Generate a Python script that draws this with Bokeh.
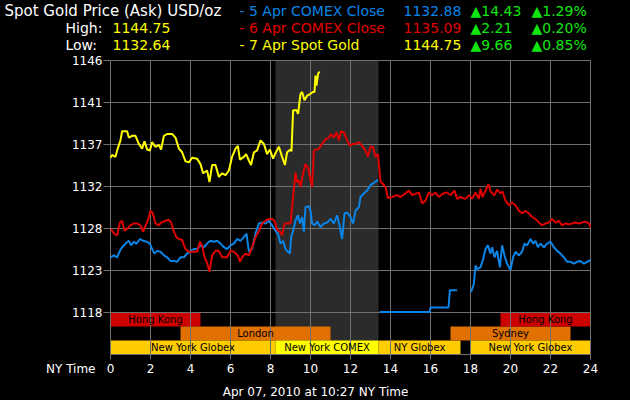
from bokeh.plotting import figure
from bokeh.models import ColumnDataSource, Range1d, GlobalInlineStyleSheet
from bokeh.embed import file_html
from bokeh.resources import INLINE
from bokeh.core.properties import value

nan = float("nan")

# ---------------- data ----------------
# 5 Apr COMEX Close (blue)
comex5_hours = [0, 0.17, 0.33, 0.47, 0.58, 0.75, 0.92, 1.03, 1.17, 1.3, 1.47, 1.63, 1.8, 1.97,
                2.08, 2.2, 2.33, 2.5, 2.67, 2.83, 3.0, 3.17, 3.33, 3.5, 3.67, 3.83, 4.0, 4.17,
                4.33, 4.5, 4.67, 4.83, 5.0, 5.17, 5.33, 5.5, 5.67, 5.83, 6.0, 6.17, 6.33, 6.5,
                6.67, 6.8, 6.92, 7.08, 7.25, 7.42, 7.58, 7.75, 7.92, 8.08, 8.25, 8.37, 8.5,
                8.63, 8.75, 8.87, 8.97, 9.03, 9.13, 9.25, 9.37, 9.47, 9.58, 9.67, 9.75, 9.92,
                10.0, 10.08, 10.2, 10.33, 10.5, 10.67, 10.83, 11.0, 11.17, 11.33, 11.47, 11.58,
                11.7, 11.83, 12.0, 12.13, 12.25, 12.42, 12.5, 12.67, 12.83, 13.0, 13.2, 13.37,
                nan,
                13.45, 15.97, 16.0, 16.9, 16.97, 17.33,
                nan,
                18.03, 18.17, 18.25, 18.33, 18.5, 18.63, 18.75, 18.87, 19.0, 19.08, 19.2, 19.33,
                19.47, 19.58, 19.7, 19.83, 20.0, 20.13, 20.25, 20.42, 20.58, 20.7, 20.83, 21.0,
                21.13, 21.25, 21.37, 21.5, 21.67, 21.83, 22.0, 22.17, 22.33, 22.5, 22.67, 22.83,
                23.0, 23.17, 23.33, 23.5, 23.67, 23.83, 24.0]
comex5_prices = [1124.4, 1124.6, 1124.4, 1125.1, 1125.5, 1125.9, 1126.2, 1125.7, 1126.1, 1125.9,
                 1126.4, 1126.2, 1126.1, 1125.9, 1125.3, 1124.8, 1125.1, 1125.0, 1124.6, 1124.4,
                 1124.0, 1124.0, 1123.9, 1124.4, 1124.4, 1124.8, 1125.1, 1125.3, 1125.3, 1125.7,
                 1125.5, 1125.9, 1126.2, 1126.1, 1126.2, 1125.9, 1125.5, 1125.3, 1125.7, 1125.9,
                 1126.4, 1126.2, 1126.6, 1127.0, 1125.0, 1125.3, 1127.0, 1128.1, 1128.2, 1128.1,
                 1128.4, 1127.9, 1127.3, 1127.0, 1125.9, 1126.2, 1125.3, 1125.0, 1124.8, 1126.6,
                 1127.3, 1128.4, 1129.0, 1128.1, 1128.8, 1127.2, 1129.9, 1130.0, 1129.5, 1128.1,
                 1127.9, 1128.3, 1127.7, 1128.1, 1128.2, 1128.6, 1128.1, 1129.0, 1127.7, 1126.4,
                 1129.2, 1129.3, 1128.8, 1128.1, 1129.5, 1129.9, 1131.0, 1131.4, 1131.7, 1132.3,
                 1132.6, 1132.88,
                 nan,
                 1118.4, 1118.4, 1118.9, 1118.9, 1120.8, 1120.8,
                 nan,
                 1120.6, 1121.5, 1123.5, 1123.1, 1123.3, 1124.2, 1125.3, 1125.7, 1124.8, 1125.5,
                 1124.4, 1125.1, 1123.3, 1125.7, 1124.6, 1123.7, 1123.0, 1124.4, 1125.0, 1124.6,
                 1125.0, 1125.9, 1125.7, 1126.4, 1125.9, 1126.2, 1125.5, 1125.9, 1125.5, 1125.9,
                 1126.1, 1125.5, 1125.1, 1124.8, 1124.4, 1123.9, 1123.9, 1123.7, 1123.9, 1124.0,
                 1123.7, 1123.9, 1124.1]

# 6 Apr COMEX Close (red)
comex6_hours = [0.03, 0.17, 0.33, 0.47, 0.58, 0.7, 0.83, 1.0, 1.17, 1.33, 1.5, 1.63, 1.8, 1.92,
                2.0, 2.12, 2.25, 2.42, 2.53, 2.75, 2.92, 3.03, 3.17, 3.3, 3.42, 3.58, 3.75, 3.92,
                4.08, 4.33, 4.47, 4.58, 4.7, 4.83, 4.95, 5.08, 5.25, 5.42, 5.58, 5.83, 6.0, 6.17,
                6.37, 6.47, 6.58, 6.75, 6.92, 7.08, 7.25, 7.42, 7.58, 7.75, 7.92, 8.08, 8.2, 8.33,
                8.47, 8.58, 8.7, 8.83, 9.0, 9.13, 9.25, 9.33, 9.42, 9.5, 9.62, 9.75, 9.88, 10.08,
                10.17, 10.42, 10.58, 10.75, 10.92, 11.03, 11.17, 11.3, 11.42, 11.53, 11.67, 11.8,
                11.97, 12.08, 12.25, 12.42, 12.58, 12.75, 12.87, 13.0, 13.12, 13.25, 13.37, 13.5,
                13.75, 13.87, 14.08, 14.33, 14.5, 14.75, 14.92, 15.08, 15.25, 15.42, 15.58, 15.75,
                15.92, 16.08, 16.25, 16.42, 16.6, 16.83, 17.0, 17.2, 17.33, 17.5, 17.75, 17.92,
                18.08, 18.25, 18.42, 18.5, 18.6, 18.9, 19.0, 19.2, 19.33, 19.5, 19.6, 19.75,
                19.92, 20.08, 20.25, 20.42, 20.58, 20.75, 20.92, 21.08, 21.25, 21.42, 21.58,
                21.75, 21.92, 22.08, 22.25, 22.42, 22.58, 22.75, 22.92, 23.08, 23.25, 23.42,
                23.58, 23.75, 23.92, 24.0]
comex6_prices = [1127.5, 1127.0, 1126.8, 1128.2, 1128.4, 1127.3, 1127.5, 1127.9, 1128.1, 1128.1,
                 1127.9, 1127.2, 1128.1, 1128.8, 1129.5, 1129.2, 1128.1, 1127.9, 1128.2, 1128.4,
                 1128.5, 1128.2, 1127.2, 1126.6, 1126.4, 1126.3, 1125.3, 1125.0, 1125.0, 1125.0,
                 1126.1, 1125.7, 1124.4, 1123.8, 1122.8, 1124.6, 1125.1, 1125.1, 1124.4, 1124.4,
                 1125.1, 1125.0, 1124.6, 1123.9, 1124.4, 1124.8, 1124.6, 1125.5, 1126.6, 1127.3,
                 1128.1, 1128.4, 1128.6, 1128.6, 1128.4, 1127.4, 1127.2, 1126.8, 1128.1, 1128.1,
                 1128.1, 1131.0, 1133.7, 1132.6, 1132.8, 1132.1, 1133.5, 1134.6, 1134.2, 1132.1,
                 1136.1, 1136.3, 1136.8, 1137.3, 1137.5, 1137.9, 1137.5, 1138.1, 1137.2, 1138.2,
                 1138.1, 1137.4, 1136.6, 1136.8, 1136.8, 1137.0, 1136.6, 1136.1, 1135.4, 1136.5,
                 1136.5, 1135.4, 1135.7, 1132.7, 1132.1, 1130.9, 1131.0, 1131.2, 1131.0, 1131.4,
                 1131.7, 1131.2, 1131.35, 1131.5, 1130.3, 1130.6, 1131.5, 1131.2, 1131.5, 1131.0,
                 1131.35, 1131.5, 1131.2, 1131.7, 1130.8, 1131.0, 1130.8, 1131.2, 1130.8, 1131.5,
                 1130.8, 1131.9, 1131.0, 1132.4, 1131.6, 1131.2, 1131.8, 1131.4, 1131.6, 1130.6,
                 1130.1, 1130.4, 1130.1, 1129.5, 1129.2, 1129.5, 1129.2, 1128.8, 1128.6, 1128.2,
                 1127.9, 1128.1, 1128.2, 1128.6, 1128.2, 1128.4, 1127.9, 1128.1, 1128.0, 1128.1,
                 1128.2, 1128.1, 1128.2, 1128.3, 1128.1, 1127.7]

# 7 Apr Spot Gold (yellow)
spot_hours = [0.0, 0.08, 0.25, 0.33, 0.5, 0.58, 0.83, 0.92, 1.08, 1.25, 1.42, 1.58, 1.7, 1.83,
              1.97, 2.08, 2.25, 2.42, 2.53, 2.67, 2.83, 3.08, 3.25, 3.42, 3.58, 3.75, 3.92, 4.08,
              4.33, 4.5, 4.63, 4.83, 4.95, 5.08, 5.25, 5.42, 5.58, 5.75, 5.92, 6.08, 6.25, 6.37,
              6.47, 6.67, 6.78, 6.92, 7.03, 7.17, 7.33, 7.5, 7.67, 7.83, 7.97, 8.13, 8.27, 8.42,
              8.58, 8.72, 8.83, 9.0, 9.05, 9.13, 9.3, 9.38, 9.5, 9.58, 9.7, 9.83, 10.0, 10.12,
              10.2, 10.25, 10.3, 10.38, 10.45]
spot_prices = [1135.3, 1135.6, 1135.4, 1136.1, 1137.2, 1138.2, 1138.2, 1137.5, 1137.7, 1137.7,
               1136.8, 1136.3, 1137.1, 1136.2, 1136.1, 1137.0, 1136.5, 1136.7, 1136.2, 1137.7,
               1137.9, 1137.9, 1137.5, 1136.3, 1135.9, 1134.9, 1134.8, 1135.3, 1135.2, 1134.6,
               1133.6, 1133.9, 1132.64, 1134.5, 1134.5, 1133.2, 1133.6, 1133.4, 1133.9, 1135.4,
               1136.3, 1136.6, 1135.1, 1135.4, 1135.7, 1135.0, 1134.5, 1135.9, 1136.1, 1137.2,
               1136.8, 1135.7, 1136.2, 1135.2, 1135.9, 1136.5, 1135.4, 1134.5, 1135.9, 1136.2,
               1136.0, 1140.5, 1140.5, 1140.1, 1142.3, 1142.5, 1141.6, 1142.1, 1142.3, 1142.5,
               1142.5, 1144.3, 1143.2, 1144.5, 1144.75]

# trading sessions: name, start hour, end hour, row (0 = top), colour
session_names = ["Hong Kong", "London", "New York Globex", "New York COMEX", "NY Globex",
                 "Sydney", "Hong Kong", "New York Globex"]
session_start = [0, 3.5, 0, 8.25, 13.4, 17, 19.5, 18]
session_end = [4.5, 11, 8.25, 13.4, 17.5, 23, 24, 24]
session_row = [0, 1, 2, 2, 2, 1, 0, 2]
session_color = ["#cc0000", "#e07000", "#ffcc00", "#ffff00", "#ffcc00", "#e07000", "#cc0000", "#ffcc00"]

comex_window = (8.25, 13.4)

y_ticks = [1118.35, 1122.95, 1127.55, 1132.15, 1136.75, 1141.35, 1145.95]
y_tick_labels = ["1118", "1123", "1128", "1132", "1137", "1141", "1146"]
x_ticks = [0, 2, 4, 6, 8, 10, 12, 14, 16, 18, 20, 22, 24]
x_tick_labels = [str(t) for t in x_ticks]

title_text = "Spot Gold Price (Ask) USD/oz"
high_label, high_value = "High:", "1144.75"
low_label, low_value = "Low:", "1132.64"
series_names = ["- 5 Apr COMEX Close", "- 6 Apr COMEX Close", "- 7 Apr Spot Gold"]
series_last = ["1132.88", "1135.09", "1144.75"]
series_chg = ["\u25b214.43", "\u25b22.21", "\u25b29.66"]
series_pct = ["\u25b21.29%", "\u25b20.20%", "\u25b20.85%"]
x_axis_title = "NY Time"
footer_text = "Apr 07, 2010 at 10:27 NY Time"

# ---------------- styling / layout ----------------
BLUE = "#0a84e6"
RED = "#e00000"
YELLOW = "#ffff00"
GREEN = "#11e611"
GRID = "#707070"
SHADE = "#2b2b2b"
FONT = "DejaVu Sans"

W, H = 630, 400
PLOT_L, PLOT_R, PLOT_T, PLOT_B = 110, 590, 60, 354   # plot area in canvas pixels
step = y_ticks[1] - y_ticks[0]
y_lo = y_ticks[0] - step          # one band below the lowest gridline holds the sessions
y_hi = y_ticks[-1]
x_lo, x_hi = x_ticks[0], x_ticks[-1]
x_per_px = (x_hi - x_lo) / (PLOT_R - PLOT_L)
y_per_px = (y_hi - y_lo) / (PLOT_B - PLOT_T)

# the frame covers the whole canvas; the ranges are widened so the data area lands on the plot area
p = figure(width=W, height=H, output_backend="svg", toolbar_location=None,
           x_axis_location=None, y_axis_location=None, min_border=0,
           x_range=Range1d(x_lo - PLOT_L * x_per_px, x_hi + (W - PLOT_R) * x_per_px),
           y_range=Range1d(y_lo - (H - PLOT_B) * y_per_px, y_hi + PLOT_T * y_per_px),
           background_fill_color="black", border_fill_color="black", outline_line_color=None)
p.grid.visible = False
p.stylesheets = [GlobalInlineStyleSheet(css="html, body { background-color: #000; overflow: hidden; }")]

def px_x(px):
    return x_lo + (px - PLOT_L) * x_per_px

def px_y(py):
    return y_hi - (py - PLOT_T) * y_per_px

# COMEX shaded window
p.quad(left=[comex_window[0]], right=[comex_window[1]], bottom=[y_lo], top=[y_hi],
       fill_color=SHADE, line_color=None)

# session bars
row_h = step / 3.0
sess = ColumnDataSource(dict(
    left=session_start, right=session_end,
    top=[y_ticks[0] - r * row_h for r in session_row],
    bottom=[y_ticks[0] - (r + 1) * row_h for r in session_row],
    color=session_color, name=session_names,
    cx=[(a + b) / 2 for a, b in zip(session_start, session_end)],
    cy=[y_ticks[0] - (r + 0.5) * row_h for r in session_row],
))
p.quad(left="left", right="right", top="top", bottom="bottom", fill_color="color",
       line_color=None, source=sess)

# grid lines
p.segment(x0=x_ticks, x1=x_ticks, y0=[y_lo] * len(x_ticks), y1=[y_hi] * len(x_ticks),
          line_color=GRID, line_width=1)
p.segment(x0=[x_lo] * len(y_ticks), x1=[x_hi] * len(y_ticks), y0=y_ticks, y1=y_ticks,
          line_color=GRID, line_width=1)
# bottom axis line
p.segment(x0=[x_lo], x1=[x_hi], y0=[y_lo], y1=[y_lo], line_color=GRID, line_width=1)
# tick marks
p.segment(x0=[px_x(PLOT_L - 7)] * len(y_ticks), x1=[x_lo] * len(y_ticks), y0=y_ticks, y1=y_ticks,
          line_color=GRID, line_width=1)
p.segment(x0=x_ticks, x1=x_ticks, y0=[y_lo] * len(x_ticks), y1=[px_y(PLOT_B + 5)] * len(x_ticks),
          line_color=GRID, line_width=1)

# session names
p.text(x="cx", y="cy", text="name", source=sess, text_align="center", text_baseline="middle",
       text_color="black", text_font=value(FONT), text_font_size="10px")

# series lines
p.line(comex5_hours, comex5_prices, line_color=BLUE, line_width=2)
p.line(comex6_hours, comex6_prices, line_color=RED, line_width=2)
p.line(spot_hours, spot_prices, line_color=YELLOW, line_width=2)

# tick labels
p.text(x=[px_x(PLOT_L - 8)] * len(y_ticks), y=y_ticks, text=y_tick_labels, text_align="right",
       text_baseline="middle", text_color="white", text_font=value(FONT), text_font_size="12px")
p.text(x=x_ticks, y=[px_y(368)] * len(x_ticks), text=x_tick_labels, text_align="center",
       text_baseline="middle", text_color="white", text_font=value(FONT), text_font_size="12px")

def add_text(text, px, py, color, size="14px", align="left"):
    p.text(x=[px_x(px)], y=[px_y(py)], text=[text], text_color=color,
           text_font=value(FONT), text_font_size=size, text_align=align, text_baseline="middle")

# header
add_text(title_text, 4, 10, "white", size="15px")
add_text(high_label, 65, 27, "white")
add_text(high_value, 112, 27, YELLOW)
add_text(low_label, 65, 44, "white")
add_text(low_value, 112, 44, YELLOW)
row_y = [10, 27, 44]
row_colors = [BLUE, RED, YELLOW]
for i in range(3):
    add_text(series_names[i], 239, row_y[i], row_colors[i])
    add_text(series_last[i], 403, row_y[i], row_colors[i])
    add_text(series_chg[i], 470, row_y[i], GREEN)
    add_text(series_pct[i], 531, row_y[i], GREEN)

add_text(x_axis_title, 95, 368, "white", size="12px", align="right")
add_text(footer_text, 315, 391, "white", size="12px", align="center")

open("out.html", "w").write(file_html(p, INLINE))
